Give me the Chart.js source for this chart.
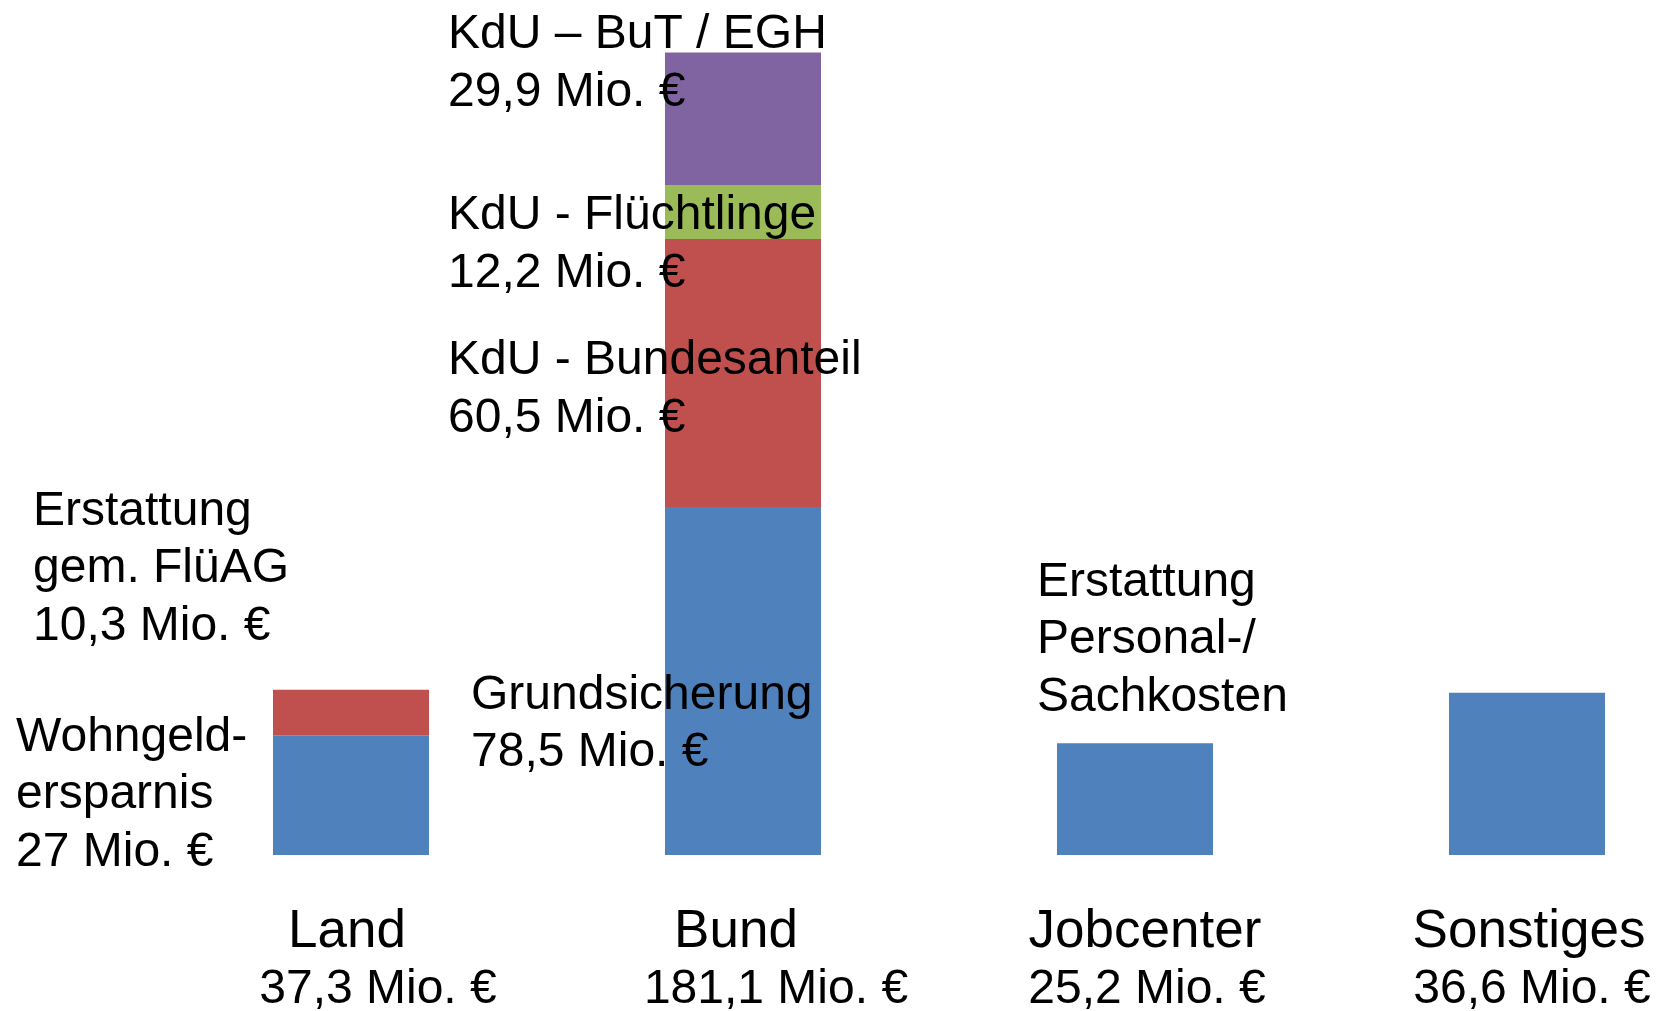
<!DOCTYPE html>
<html>
<head>
<meta charset="utf-8">
<script src="https://cdn.jsdelivr.net/npm/chart.js@4.4.1/dist/chart.umd.min.js"></script>
<style>
    html, body { margin: 0; padding: 0; background: #ffffff; overflow: hidden; }
    #wrap { width: 1656px; height: 1011px; overflow: hidden; }
    canvas { display: block; }
</style>
</head>
<body>
<div id="wrap"><canvas id="budgetChart" width="1760" height="1011" style="width:1760px;height:1011px"></canvas></div>
<script>
// Kategorien und Summen
const categories = ['Land', 'Bund', 'Jobcenter', 'Sonstiges'];
const categoryTotals = ['37,3 Mio. €', '181,1 Mio. €', '25,2 Mio. €', '36,6 Mio. €'];

// Werte je Segment (Mio. €)
const baseValues = [27, 78.5, 25.2, 36.6];
const secondValues = [10.3, 60.5, null, null];
const refugeeValues = [null, 12.2, null, null];
const butValues = [null, 29.9, null, null];

// Beschriftungen an den Balken
const noteCategory = [1, 1, 1, 0, 0, 1, 2];
const noteLines = [
    ['KdU – BuT / EGH', '29,9 Mio. €'],
    ['KdU - Flüchtlinge', '12,2 Mio. €'],
    ['KdU - Bundesanteil', '60,5 Mio. €'],
    ['Erstattung', 'gem. FlüAG', '10,3 Mio. €'],
    ['Wohngeld-', 'ersparnis', '27 Mio. €'],
    ['Grundsicherung', '78,5 Mio. €'],
    ['Erstattung', 'Personal-/', 'Sachkosten']
];

// Layout (Pixel) - getrennt von den Daten
const FONT = "48px 'Liberation Sans', Arial, sans-serif";
const CAT_FONT = "53px 'Liberation Sans', Arial, sans-serif";
const LINE_H = 57.5;
const noteOffsetX = [-295, -295, -295, -318, -335, -272, -98];
const noteBaseY = [48, 229, 374, 524.5, 750.5, 708.5, 595.5];
const catLabelY = [947, 1003];
const catShift1 = [-4, -7, 10, 2];
const catShift2 = [27, 33, 12, 5];

const textPlugin = {
    id: 'textLabels',
    afterDatasetsDraw(chart) {
        const ctx = chart.ctx;
        const x = chart.scales.x;
        ctx.save();
        ctx.fillStyle = '#000000';
        ctx.textBaseline = 'alphabetic';

        // Notizen links ausgerichtet
        ctx.font = FONT;
        ctx.textAlign = 'left';
        noteLines.forEach((lines, i) => {
            const px = x.getPixelForValue(noteCategory[i]) + noteOffsetX[i];
            lines.forEach((line, j) => {
                ctx.fillText(line, px, noteBaseY[i] + j * LINE_H);
            });
        });

        // Kategorienamen mit Summe
        ctx.textAlign = 'center';
        categories.forEach((name, i) => {
            const cx = x.getPixelForValue(i);
            ctx.font = CAT_FONT;
            ctx.fillText(name, cx + catShift1[i], catLabelY[0]);
            ctx.font = FONT;
            ctx.fillText(categoryTotals[i], cx + catShift2[i], catLabelY[1]);
        });
        ctx.restore();
    }
};

const ctx = document.getElementById('budgetChart').getContext('2d');
new Chart(ctx, {
    type: 'bar',
    data: {
        labels: categories,
        datasets: [
            { label: 'Basis', data: baseValues, backgroundColor: '#4F81BD' },
            { label: 'Zweiter Anteil', data: secondValues, backgroundColor: '#C0504D' },
            { label: 'Flüchtlinge', data: refugeeValues, backgroundColor: '#9BBB59' },
            { label: 'BuT / EGH', data: butValues, backgroundColor: '#8064A2' }
        ]
    },
    options: {
        responsive: false,
        animation: false,
        layout: {
            padding: { left: 155, right: 37, top: 13, bottom: 156 }
        },
        datasets: {
            bar: {
                categoryPercentage: 0.398,
                barPercentage: 1,
                borderWidth: 0
            }
        },
        plugins: {
            legend: { display: false },
            tooltip: { enabled: false }
        },
        scales: {
            x: {
                stacked: true,
                display: false
            },
            y: {
                stacked: true,
                display: false,
                min: 0,
                max: 190
            }
        }
    },
    plugins: [textPlugin]
});
</script>
</body>
</html>
